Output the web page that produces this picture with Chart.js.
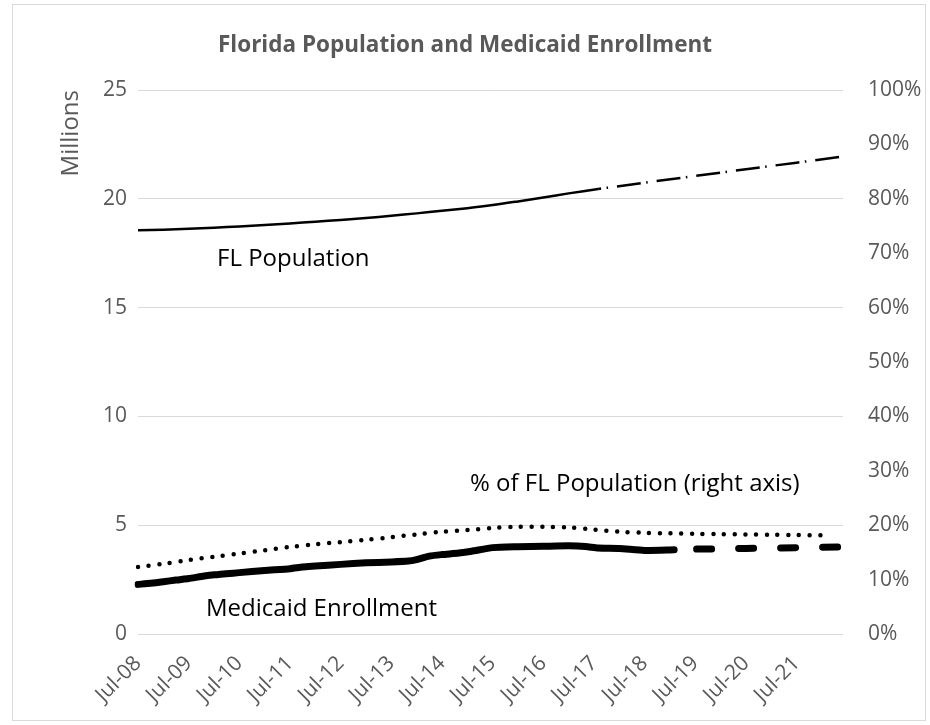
<!DOCTYPE html>
<html><head><meta charset="utf-8">
<script src="https://cdn.jsdelivr.net/npm/chart.js@4"></script>
<style>
html,body{margin:0;padding:0;background:#fff;}
#wrap{position:relative;width:930px;height:725px;}
</style></head><body>
<div id="wrap"><canvas id="c" width="930" height="725"></canvas></div>
<script>
// ---- categories (monthly, Jul-08 .. Jun-22) ----
const monthNames = ['Jan','Feb','Mar','Apr','May','Jun','Jul','Aug','Sep','Oct','Nov','Dec'];
const months = [];
for (let y = 2008; y <= 2022; y++) {
  for (let m = 0; m < 12; m++) {
    if (y === 2008 && m < 6) continue;
    if (y === 2022 && m > 5) continue;
    months.push(monthNames[m] + '-' + String(y % 100).padStart(2, '0'));
  }
}
const tickLabels = ['Jul-08','Jul-09','Jul-10','Jul-11','Jul-12','Jul-13','Jul-14','Jul-15','Jul-16','Jul-17','Jul-18','Jul-19','Jul-20','Jul-21'];
const leftTicks = [0, 5, 10, 15, 20, 25];
const rightTicks = [0, 10, 20, 30, 40, 50, 60, 70, 80, 90, 100];

// ---- FL population (millions), actual ----
const popMonths = ['Jul-08','Jan-09','Jul-09','Jan-10','Jul-10','Jan-11','Jul-11','Jan-12','Jul-12','Jan-13','Jul-13','Jan-14','Jul-14','Jan-15','Jul-15','Jan-16','Jul-16','Jan-17','Aug-17'];
const popValues = [18.56,18.58,18.62,18.67,18.73,18.80,18.87,18.95,19.03,19.12,19.22,19.33,19.45,19.57,19.71,19.88,20.06,20.25,20.45];
// ---- FL population (millions), projected ----
const popProjMonths = ['Aug-17','Jul-18','Jul-19','Jul-20','Jul-21','Jun-22'];
const popProjValues = [20.45,20.74,21.05,21.36,21.66,21.94];

// ---- Medicaid enrollment (millions), actual ----
const medMonths = ['Jul-08','Oct-08','Jan-09','Apr-09','Jul-09','Oct-09','Jan-10','Jul-10','Jan-11','Jul-11','Oct-11','Jan-12','Jul-12','Jan-13','Jul-13','Nov-13','Jan-14','Apr-14','Jul-14','Nov-14','Feb-15','Jul-15','Jan-16','Jul-16','Jan-17','May-17','Aug-17','Jan-18','Jul-18','Feb-19'];
const medValues = [2.28,2.33,2.40,2.48,2.55,2.64,2.72,2.82,2.92,3.00,3.08,3.12,3.20,3.27,3.31,3.35,3.42,3.58,3.65,3.72,3.80,3.97,4.01,4.03,4.05,4.02,3.95,3.93,3.84,3.87];
// ---- Medicaid enrollment (millions), projected ----
const medProjMonths = ['Feb-19','Jul-19','Jul-20','Jul-21','Jun-22'];
const medProjValues = [3.87,3.90,3.93,3.97,4.00];

// ---- % of FL population (right axis) ----
const pctMonths = ['Jul-08','Jan-09','Jul-09','Jan-10','Jul-10','Jan-11','Jul-11','Jan-12','Jul-12','Jan-13','Jul-13','Jan-14','Jul-14','Jan-15','Jul-15','Jan-16','Jul-16','Jan-17','Jul-17','Jan-18','Jul-18','Jan-19','Jul-19','Jan-20','Jul-20','Jan-21','Jul-21','Jan-22'];
const pctValues = [12.3,12.9,13.6,14.2,14.8,15.4,16.0,16.5,16.9,17.3,17.8,18.3,18.8,19.1,19.5,19.7,19.7,19.6,19.2,18.8,18.6,18.5,18.4,18.35,18.3,18.25,18.2,18.15];

const pairs = (ms, vs) => ms.map((m, i) => ({x: m, y: vs[i]}));

const FONT = '"Open Sans", sans-serif';
const GREY = '#595959';

const frame = {
  id: 'frame',
  beforeDraw(chart) {
    const ctx = chart.ctx;
    ctx.save();
    ctx.fillStyle = '#fff';
    ctx.fillRect(0, 0, chart.width, chart.height);
    ctx.strokeStyle = '#d9d9d9';
    ctx.lineWidth = 1;
    ctx.strokeRect(12.5, 4.5, 913, 716);
    ctx.restore();
  },
  afterDraw(chart) {
    const ctx = chart.ctx;
    const a = chart.chartArea;
    ctx.save();
    // title
    ctx.fillStyle = GREY;
    ctx.font = 'bold 22.5px ' + FONT;
    ctx.textAlign = 'center';
    ctx.textBaseline = 'middle';
    ctx.fillText('Florida Population and Medicaid Enrollment', 465, 46);
    // series annotations
    ctx.fillStyle = '#000';
    ctx.font = '24px ' + FONT;
    ctx.textAlign = 'left';
    ctx.textBaseline = 'alphabetic';
    ctx.fillText('FL Population', a.left + 79, 266);
    ctx.fillText('% of FL Population (right axis)', a.left + 332, 491);
    ctx.fillText('Medicaid Enrollment', a.left + 68, 616);
    ctx.restore();
  }
};

new Chart(document.getElementById('c'), {
  type: 'line',
  data: {
    labels: months,
    datasets: [
      { data: pairs(popMonths, popValues), yAxisID: 'y', borderColor: '#000', borderWidth: 2.5, pointRadius: 0, tension: 0.3 },
      { data: pairs(popProjMonths, popProjValues), yAxisID: 'y', borderColor: '#000', borderWidth: 2.5, pointRadius: 0, tension: 0,
        borderDash: [24, 5.5, 1.5, 9], borderDashOffset: 21 },
      { data: pairs(medMonths, medValues), yAxisID: 'y', borderColor: '#000', borderWidth: 7, pointRadius: 0, tension: 0.2,
        borderJoinStyle: 'round', borderCapStyle: 'round' },
      { data: pairs(medProjMonths, medProjValues), yAxisID: 'y', borderColor: '#000', borderWidth: 7, pointRadius: 0, tension: 0,
        borderDash: [15, 27], borderDashOffset: 19.5, borderCapStyle: 'round' },
      { data: pairs(pctMonths, pctValues), yAxisID: 'y1', borderColor: '#000', borderWidth: 4.5, pointRadius: 0, tension: 0.3,
        borderDash: [0, 10.7], borderCapStyle: 'round' }
    ]
  },
  options: {
    responsive: false,
    animation: false,
    events: [],
    layout: { padding: { top: 90, left: 0, right: 0, bottom: 0 } },
    plugins: { legend: { display: false }, tooltip: { enabled: false }, title: { display: false } },
    scales: {
      x: {
        type: 'category',
        offset: false,
        grid: { display: false, drawTicks: false },
        border: { display: false },
        ticks: {
          autoSkip: false, maxRotation: 45, minRotation: 45, padding: 17,
          color: GREY, font: { family: FONT, size: 21 },
          callback(v, i) { const l = months[i]; return tickLabels.includes(l) ? l : ''; }
        },
        afterFit(s) { s.height = 91; }
      },
      y: {
        position: 'left', min: 0, max: 25,
        afterBuildTicks(s) { s.ticks = leftTicks.map(v => ({value: v})); },
        grid: { color: '#d9d9d9', lineWidth: 1, drawTicks: false },
        border: { display: false },
        ticks: { padding: 11, color: GREY, font: { family: FONT, size: 21 } },
        title: { display: true, text: 'Millions', align: 'end', color: GREY, font: { family: FONT, size: 24 }, padding: { top: 57, bottom: 0 } },
        afterFit(s) { s.width = 138; }
      },
      y1: {
        position: 'right', min: 0, max: 100,
        afterBuildTicks(s) { s.ticks = rightTicks.map(v => ({value: v})); },
        grid: { display: false, drawTicks: false, tickLength: 0 },
        border: { display: false },
        ticks: { padding: 25, color: GREY, font: { family: FONT, size: 21 }, callback: v => v + '%' },
        afterFit(s) { s.width = 87; }
      }
    }
  },
  plugins: [frame]
});
</script>
</body></html>
